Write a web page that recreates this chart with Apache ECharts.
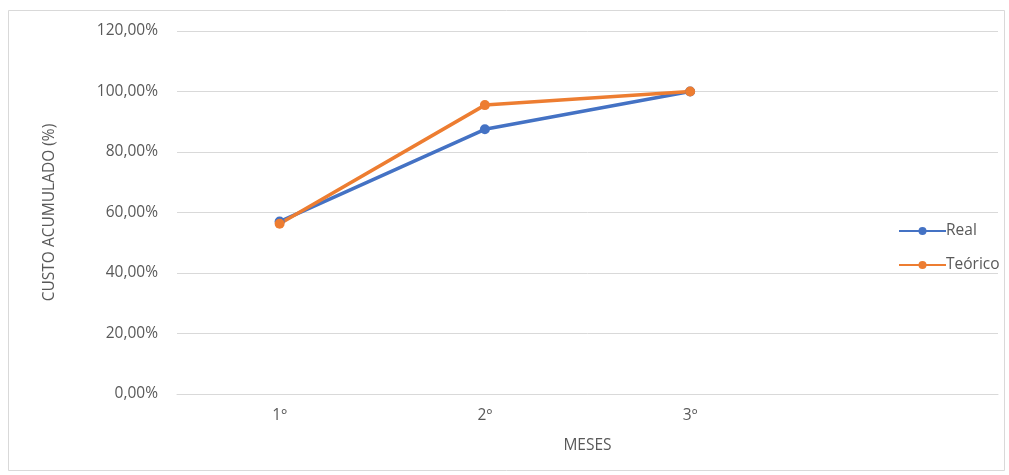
<!DOCTYPE html>
<html>
<head>
<meta charset="utf-8">
<script src="https://cdn.jsdelivr.net/npm/echarts@6/dist/echarts.min.js"></script>
<style>
  html, body { margin: 0; padding: 0; background: #fff; }
  #chart { width: 1009px; height: 475px; }
</style>
</head>
<body>
<div id="chart"></div>
<script>
// Months on the x axis (the last slot is left empty, as in the sheet layout)
const months = ['1º', '2º', '3º', ''];
// Accumulated cost, in percent
const realValues = [57.0, 87.5, 100.0];
const theoreticalValues = [56.3, 95.5, 100.0];
// Y axis scale
const yMin = 0;
const yMax = 120;
const yStep = 20;

const textColor = '#595959';
const gridColor = '#d9d9d9';
const font = 'Open Sans, Liberation Sans, Arial, sans-serif';
const fontSize = 15.5;

const chart = echarts.init(document.getElementById('chart'));
chart.setOption({
  animation: false,
  backgroundColor: '#fff',
  graphic: [{
    type: 'rect',
    shape: { x: 8.5, y: 10.5, width: 996, height: 460 },
    style: { fill: 'none', stroke: '#d9d9d9', lineWidth: 1 },
    silent: true
  }],
  grid: { left: 177, right: 11, top: 31, bottom: 81 },
  legend: {
    orient: 'vertical',
    left: 893,
    top: 218,
    itemWidth: 47,
    itemHeight: 10,
    itemGap: 18,
    textStyle: { color: textColor, fontSize: fontSize, fontFamily: font, padding: [0, 0, 0, -5] },
    data: ['Real', 'Teórico']
  },
  xAxis: {
    type: 'category',
    data: months,
    boundaryGap: true,
    name: 'MESES',
    nameLocation: 'middle',
    nameGap: 44,
    nameTextStyle: { color: textColor, fontSize: fontSize, fontFamily: font },
    axisLine: { lineStyle: { color: gridColor, width: 1 } },
    axisTick: { show: false },
    axisLabel: { color: textColor, fontSize: fontSize, fontFamily: font, margin: 14 }
  },
  yAxis: {
    type: 'value',
    min: yMin,
    max: yMax,
    interval: yStep,
    name: 'CUSTO ACUMULADO (%)',
    nameLocation: 'middle',
    nameGap: 119,
    nameTextStyle: { color: textColor, fontSize: fontSize, fontFamily: font },
    axisLine: { show: false },
    axisTick: { show: false },
    splitLine: { lineStyle: { color: gridColor, width: 1 } },
    axisLabel: {
      color: textColor,
      fontSize: fontSize,
      fontFamily: font,
      margin: 19,
      formatter: v => v.toFixed(2).replace('.', ',') + '%'
    }
  },
  series: [
    {
      name: 'Real',
      type: 'line',
      data: realValues,
      symbol: 'circle',
      symbolSize: 10,
      lineStyle: { color: '#4472C4', width: 3.5 },
      itemStyle: { color: '#4472C4' }
    },
    {
      name: 'Teórico',
      type: 'line',
      data: theoreticalValues,
      symbol: 'circle',
      symbolSize: 10,
      lineStyle: { color: '#ED7D31', width: 3.5 },
      itemStyle: { color: '#ED7D31' }
    }
  ]
});
</script>
</body>
</html>
